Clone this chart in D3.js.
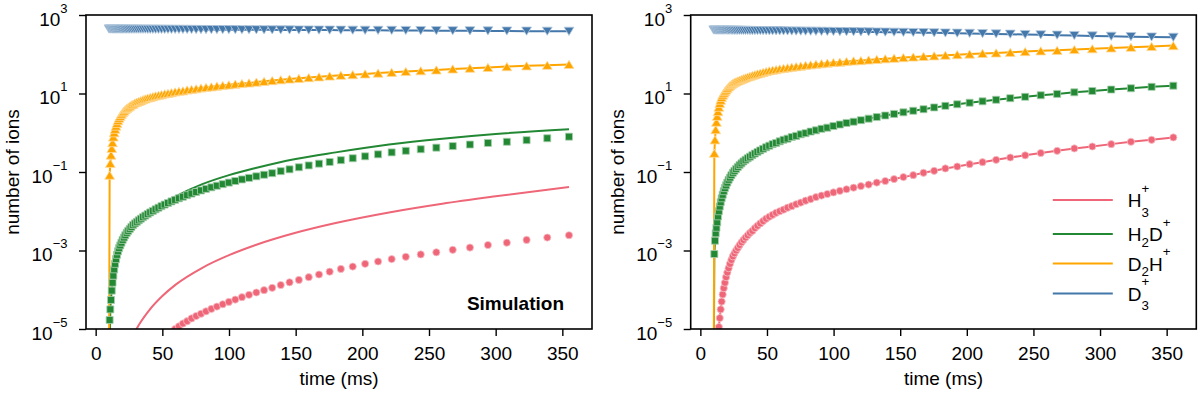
<!DOCTYPE html>
<html>
<head>
<meta charset="utf-8">
<script src="https://cdn.jsdelivr.net/npm/d3@7"></script>
<style>
  body { margin: 0; background: #fff; }
  svg { display: block; font-family: "Liberation Sans", Arial, sans-serif; }
</style>
</head>
<body>
<svg id="chart" width="1200" height="395"></svg>
<script>
// sampling times (ms), shared by every marker series
var times = [10.0, 10.48, 10.98, 11.51, 12.07, 12.65, 13.25, 13.89, 14.56, 15.26,
  15.99, 16.76, 17.57, 18.42, 19.30, 20.23, 21.20, 22.22, 23.29, 24.41,
  25.58, 26.81, 28.10, 29.45, 30.87, 32.35, 33.91, 35.54, 37.25, 39.04,
  40.92, 42.89, 44.95, 47.11, 49.38, 51.75, 54.24, 56.85, 59.58, 62.45,
  65.45, 68.60, 71.90, 75.35, 78.98, 82.77, 86.76, 90.93, 95.30, 99.88,
  104.7, 109.7, 115.0, 120.5, 126.3, 132.4, 138.8, 145.4, 152.4, 159.8,
  167.5, 175.5, 183.9, 192.8, 202.1, 211.8, 222.0, 232.6, 243.8, 255.5,
  267.8, 280.7, 294.2, 308.4, 323.2, 338.7, 355.0];

// left panel, markers (simulation)
var simH3 = [null, null, null, null, null, null, null, null, null, null,
  null, null, null, null, null, null, null, null, null, null,
  null, null, null, null, null, null, null, null, null, null,
  null, null, null, null, null, null, null, null,
  1.0e-5, 1.17e-5, 1.38e-5, 1.58e-5, 1.86e-5, 2.14e-5, 2.45e-5, 2.82e-5, 3.24e-5, 3.72e-5,
  4.27e-5, 4.9e-5, 5.62e-5, 6.46e-5, 7.41e-5, 8.51e-5, 9.77e-5, 1.12e-4, 1.32e-4, 1.55e-4,
  1.78e-4, 2.09e-4, 2.45e-4, 2.88e-4, 3.39e-4, 3.89e-4, 4.57e-4, 5.25e-4, 6.03e-4, 6.92e-4,
  7.94e-4, 9.0e-4, 1.04e-3, 1.19e-3, 1.38e-3, 1.58e-3, 1.86e-3, 2.14e-3, 2.45e-3];
var simH2D = [0,
  1.7e-5, 3.16e-5, 5.5e-5, 9.5e-5, 1.51e-4, 2.29e-4, 3.31e-4, 4.57e-4, 6.03e-4, 7.76e-4,
  9.55e-4, 1.15e-3, 1.35e-3, 1.58e-3, 1.86e-3, 2.14e-3, 2.45e-3, 2.82e-3, 3.16e-3, 3.55e-3,
  3.98e-3, 4.47e-3, 4.9e-3, 5.37e-3, 5.89e-3, 6.46e-3, 7.08e-3, 7.76e-3, 8.51e-3, 9.33e-3,
  0.0102, 0.0112, 0.0123, 0.0135, 0.0148, 0.0162, 0.0178, 0.0195, 0.0214, 0.0234,
  0.0257, 0.0282, 0.0309, 0.0339, 0.0372, 0.0407, 0.0447, 0.049, 0.0537, 0.0589,
  0.0646, 0.0708, 0.0776, 0.0851, 0.0933, 0.105, 0.117, 0.132, 0.147, 0.163,
  0.18, 0.20, 0.224, 0.251, 0.282, 0.316, 0.347, 0.38, 0.417, 0.457,
  0.501, 0.55, 0.589, 0.646, 0.724, 0.794];
var simD2H = [0,
  0.083, 0.166, 0.27, 0.40, 0.56, 0.78, 1.0, 1.23, 1.48, 1.74,
  2.04, 2.34, 2.63, 2.95, 3.24, 3.55, 3.89, 4.17, 4.47, 4.79,
  5.13, 5.37, 5.75, 6.03, 6.31, 6.61, 7.0, 7.33, 7.67, 7.94,
  8.32, 8.71, 9.02, 9.33, 9.77, 10.1, 10.5, 11.0, 11.4, 11.7,
  12.3, 12.7, 13.2, 13.8, 14.3, 14.8, 15.5, 16.0, 16.6, 17.4,
  18.0, 18.6, 19.5, 20.4, 21.4, 22.4, 23.4, 24.3, 25.4, 26.6,
  27.9, 29.2, 30.2, 31.6, 33.1, 34.7, 36.3, 38.0, 39.8, 42.2,
  44.2, 46.2, 48.4, 50.7, 52.5, 55.0];
var simD3 = [440, 440, 440, 440, 440, 439, 439, 439, 439, 438,
  438, 438, 438, 437, 437, 437, 436, 436, 436, 435,
  435, 435, 435, 434, 434, 434, 433, 433, 433, 432,
  432, 432, 431, 431, 431, 430, 430, 429, 429, 428,
  428, 427, 427, 426, 426, 425, 425, 424, 423, 423,
  422, 421, 421, 420, 419, 418, 417, 416, 415, 414,
  413, 412, 410, 409, 408, 406, 405, 403, 401, 399,
  397, 395, 393, 391, 388, 386, 384];

// left panel, rate-model curves for H3+ and H2D+
var modelTimes = [10, 11, 12, 14, 16, 20, 25, 30, 40, 50, 60, 80, 100, 120, 150, 180, 220, 260, 300, 355];
var modelH3 = [0, 0, 0, 0, 0, 1.2e-6, 3.9e-6, 9.1e-6, 2.95e-5, 6.9e-5, 1.35e-4, 3.63e-4, 7.6e-4, 1.38e-3, 2.82e-3, 5.0e-3, 9.3e-3, 0.0155, 0.024, 0.0417];
var modelH2D = [0, 3.16e-5, 8.9e-5, 3.4e-4, 7.6e-4, 1.78e-3, 3.55e-3, 5.6e-3, 9.77e-3, 0.0155, 0.024, 0.049, 0.0832, 0.126, 0.214, 0.316, 0.501, 0.708, 0.933, 1.23];

// right panel
var expH3 = [null, null, null, null, null, null, null,
  1.12e-5, 1.9e-5, 3.16e-5, 5.0e-5,
  7.6e-5, 1.1e-4, 1.51e-4, 2.09e-4, 2.75e-4, 3.55e-4, 4.57e-4, 5.75e-4, 7.08e-4, 8.51e-4,
  1.0e-3, 1.17e-3, 1.38e-3, 1.62e-3, 1.86e-3, 2.14e-3, 2.45e-3, 2.82e-3, 3.16e-3, 3.72e-3,
  4.27e-3, 4.9e-3, 5.62e-3, 6.46e-3, 7.24e-3, 8.13e-3, 9.12e-3, 0.01, 0.011, 0.0123,
  0.0135, 0.0151, 0.0166, 0.0186, 0.0204, 0.0229, 0.0251, 0.0275, 0.0302, 0.0331,
  0.0363, 0.0398, 0.0437, 0.0479, 0.0537, 0.0589, 0.0661, 0.0741, 0.0832, 0.0955,
  0.107, 0.123, 0.138, 0.158, 0.178, 0.204, 0.234, 0.266, 0.305, 0.347,
  0.398, 0.447, 0.513, 0.589, 0.661, 0.759];
var expH2D = [0,
  8.1e-4, 1.78e-3, 2.75e-3, 3.8e-3, 5.25e-3, 7.4e-3, 0.01, 0.0132, 0.017, 0.0214,
  0.0263, 0.0324, 0.0389, 0.0457, 0.0537, 0.0631, 0.0724, 0.0832, 0.0955, 0.107,
  0.12, 0.135, 0.151, 0.166, 0.186, 0.204, 0.224, 0.245, 0.269, 0.295,
  0.324, 0.355, 0.389, 0.427, 0.468, 0.513, 0.55, 0.603, 0.661, 0.708,
  0.776, 0.832, 0.912, 0.977, 1.07, 1.15, 1.26, 1.35, 1.48, 1.62,
  1.78, 1.91, 2.09, 2.29, 2.51, 2.75, 3.02, 3.31, 3.63, 3.98,
  4.42, 4.84, 5.31, 5.82, 6.31, 6.92, 7.59, 8.22, 9.02, 9.77,
  10.7, 11.6, 12.6, 13.6, 14.8, 15.8];
var expD2H = [0,
  0.30, 0.66, 1.20, 1.86, 2.63, 3.47, 4.47, 5.62, 6.76, 7.94,
  9.12, 10.2, 11.2, 12.3, 13.5, 14.8, 15.8, 17.0, 18.2, 19.1,
  20.0, 20.9, 21.9, 22.9, 24.0, 25.1, 26.3, 27.5, 28.8, 30.2,
  31.6, 33.1, 34.7, 36.3, 38.0, 39.4, 40.7, 42.2, 43.7, 45.2,
  46.8, 48.4, 50.1, 51.9, 53.7, 55.6, 57.5, 59.6, 61.7, 63.1,
  65.3, 67.6, 69.2, 71.6, 74.1, 76.7, 79.4, 82.2, 85.1, 88.1,
  91.2, 94.4, 97.7, 101, 105, 108, 112, 117, 122, 126,
  132, 138, 145, 151, 158, 166];
var expD3 = [415, 415, 415, 414, 414, 414, 413, 413, 413, 413,
  412, 412, 412, 411, 411, 410, 410, 409, 409, 408,
  408, 407, 406, 406, 405, 404, 404, 403, 402, 401,
  401, 400, 399, 398, 397, 396, 395, 394, 393, 392,
  391, 390, 389, 388, 386, 385, 384, 382, 381, 380,
  378, 376, 375, 373, 371, 368, 366, 364, 361, 358,
  355, 352, 348, 344, 340, 335, 330, 324, 318, 312,
  306, 300, 293, 287, 281, 275, 270];

var speciesLabels = ['H_3^+', 'H_2D^+', 'D_2H^+', 'D_3^+'];
var speciesColors = ['#EE6677', '#228833', '#FFA500', '#4477AA'];
var speciesMarkers = ['circle', 'square', 'triangleUp', 'triangleDown'];
var xTicks = [0, 50, 100, 150, 200, 250, 300, 350];
var yTicks = [1e-5, 1e-3, 1e-1, 1e1, 1e3];

var svg = d3.select('#chart');
var top_ = 15, bottom = 329;
var fontSize = 19;

var tExt = d3.extent(times);
var tPad = (tExt[1] - tExt[0]) * 0.05;

var panels = [
  { id: 'sim', left: 86, right: 592,
    lines: [[modelTimes, modelH3, true], [modelTimes, modelH2D, true], [times, simD2H, false], [times, simD3, false]],
    points: [simH3, simH2D, simD2H, simD3], note: 'Simulation', legend: false },
  { id: 'exp', left: 690.7, right: 1196.3,
    lines: [[times, expH3, false], [times, expH2D, false], [times, expD2H, false], [times, expD3, false]],
    points: [expH3, expH2D, expD2H, expD3], note: null, legend: true }
];

function markerPath(type) {
  if (type == 'triangleUp') return 'M0,-4.1L4.9,4.1L-4.9,4.1Z';
  if (type == 'triangleDown') return 'M0,4.1L4.9,-4.1L-4.9,-4.1Z';
  if (type == 'square') return 'M-3.5,-3.5H3.5V3.5H-3.5Z';
  return d3.symbol().type(d3.symbolCircle).size(Math.PI * 3.6 * 3.6)();
}

// chemical label like H_2D^+ : sub and sup stacked when adjacent
function drawChem(g, x, y, str, size) {
  var cx = x, subStart = null, subW = 0, i = 0, prevSub = false;
  while (i < str.length) {
    var ch = str[i], mode = 'base';
    if (ch == '_' || ch == '^') { mode = ch == '_' ? 'sub' : 'sup'; i++; ch = str[i]; }
    var fs = mode == 'base' ? size : size * 0.7;
    var dy = 0;
    if (mode == 'sub') dy = (str[i + 1] == '^') ? 9.5 : 5.5;
    if (mode == 'sup') dy = -14.5;
    var px = cx;
    if (mode == 'sup' && prevSub) px = subStart;
    var t = g.append('text').attr('x', px).attr('y', y + dy)
      .attr('font-size', fs).attr('fill', '#000').text(ch);
    var w = t.node().getComputedTextLength();
    if (mode == 'sub') { subStart = px; subW = w; prevSub = true; cx = px + w; }
    else if (mode == 'sup' && prevSub) { cx = Math.max(subStart + subW, px + w); prevSub = false; }
    else { cx = px + w; prevSub = false; }
    i++;
  }
}

panels.forEach(function (p) {
  var x = d3.scaleLinear().domain([tExt[0] - tPad, tExt[1] + tPad]).range([p.left, p.right]);
  var y = d3.scaleLog().domain([1e-5, 1e3]).range([bottom, top_]);
  var yOf = function (v) { return (v == null || v <= 0) ? bottom + 60 : y(v); };

  var g = svg.append('g').attr('class', 'panel-' + p.id);

  g.append('clipPath').attr('id', 'clip-' + p.id)
    .append('rect')
    .attr('x', p.left).attr('y', top_)
    .attr('width', p.right - p.left).attr('height', bottom - top_);

  var plot = g.append('g').attr('clip-path', 'url(#clip-' + p.id + ')');

  p.lines.forEach(function (ln, i) {
    var xs = ln[0], vals = ln[1];
    var line = d3.line()
      .x(function (d, k) { return x(xs[k]); })
      .y(function (d) { return yOf(d); })
      .curve(ln[2] ? d3.curveMonotoneX : d3.curveLinear);
    plot.append('path')
      .attr('d', line(vals))
      .attr('fill', 'none')
      .attr('stroke', speciesColors[i])
      .attr('stroke-width', 2)
      .attr('stroke-linejoin', 'round');
  });

  p.points.forEach(function (vals, i) {
    var pts = vals.map(function (v, k) { return { t: times[k], v: v }; })
      .filter(function (d) { return d.v != null && d.v > 0; });
    plot.append('g').selectAll('path')
      .data(pts)
      .enter()
      .append('path')
      .attr('transform', function (d) { return 'translate(' + x(d.t) + ',' + y(d.v) + ')'; })
      .attr('d', markerPath(speciesMarkers[i]))
      .attr('fill', speciesColors[i])
      .attr('stroke', d3.interpolateRgb(speciesColors[i], '#fff')(0.6))
      .attr('stroke-width', 0.8);
  });

  // axes
  var xa = g.append('g')
    .attr('transform', 'translate(0,' + bottom + ')')
    .call(d3.axisBottom(x).tickValues(xTicks).tickSize(7).tickSizeOuter(0).tickPadding(11));
  xa.select('.domain').remove();
  xa.selectAll('line').attr('stroke', '#000').attr('stroke-width', 1.4);
  xa.selectAll('text').attr('font-size', fontSize).attr('fill', '#000')
    .attr('font-family', '"Liberation Sans", Arial, sans-serif');

  var ya = g.append('g')
    .attr('transform', 'translate(' + p.left + ',0)')
    .call(d3.axisLeft(y).tickValues(yTicks).tickSize(7).tickFormat(''));
  ya.select('.domain').remove();
  ya.selectAll('line').attr('stroke', '#000').attr('stroke-width', 1.4);

  yTicks.forEach(function (v) {
    var e = Math.round(Math.log10(v));
    var t = g.append('text')
      .attr('x', p.left - 18.5).attr('y', y(v) + 10.5)
      .attr('text-anchor', 'end').attr('fill', '#000');
    t.append('tspan').attr('font-size', fontSize).text('10');
    t.append('tspan').attr('font-size', 13).attr('dy', -13)
      .text(e < 0 ? '\u2212' + (-e) : String(e));
  });

  g.append('rect')
    .attr('x', p.left).attr('y', top_)
    .attr('width', p.right - p.left).attr('height', bottom - top_)
    .attr('fill', 'none').attr('stroke', '#000').attr('stroke-width', 1.6);

  g.append('text')
    .attr('x', (p.left + p.right) / 2).attr('y', 385)
    .attr('text-anchor', 'middle').attr('font-size', fontSize).attr('fill', '#000')
    .text('time (ms)');

  g.append('text')
    .attr('transform', 'translate(' + (p.left - 67) + ',' + ((top_ + bottom) / 2) + ') rotate(-90)')
    .attr('text-anchor', 'middle').attr('font-size', fontSize).attr('fill', '#000')
    .text('number of ions');

  if (p.note) {
    g.append('text')
      .attr('x', p.right - 28).attr('y', 310)
      .attr('text-anchor', 'end').attr('font-size', 19).attr('font-weight', 'bold')
      .attr('fill', '#000')
      .text(p.note);
  }

  if (p.legend) {
    var rowY = [200, 234, 263.5, 293.5];
    var lg = g.append('g').attr('class', 'legend');
    speciesLabels.forEach(function (lab, i) {
      lg.append('line')
        .attr('x1', p.right - 143.5).attr('x2', p.right - 83.5)
        .attr('y1', rowY[i]).attr('y2', rowY[i])
        .attr('stroke', speciesColors[i]).attr('stroke-width', 2.2);
      drawChem(lg, p.right - 68.5, rowY[i] + 7, lab, fontSize);
    });
  }
});
</script>
</body>
</html>
